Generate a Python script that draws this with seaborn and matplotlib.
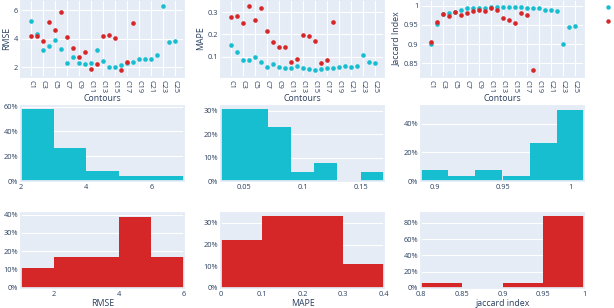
import matplotlib
matplotlib.use("Agg")
import matplotlib.pyplot as plt
import numpy as np
import pandas as pd
import seaborn as sns
from matplotlib.lines import Line2D
from matplotlib.ticker import PercentFormatter

# ---- data ----
contours = [f"C{i}" for i in range(1, 26)]

rmse_cyan = [5.26, 4.35, 3.2, 3.5, 3.9, 3.3, 2.3, 2.7, 2.3, 2.25, 2.3, 3.2, 2.45,
             2.05, 2.0, 2.15, 2.3, 2.4, 2.55, 2.55, 2.6, 2.85, 6.3, 3.8, 3.85]
rmse_red = [4.2, 4.2, 3.85, 5.15, 4.6, 5.85, 4.1, 3.35, 2.7, 3.05, 1.9, 2.2,
            4.2, 4.25, 4.02, 1.8, 2.35, 5.1]

mape_cyan = [0.153, 0.12, 0.085, 0.085, 0.1, 0.077, 0.053, 0.067, 0.052, 0.048,
             0.048, 0.06, 0.05, 0.045, 0.042, 0.045, 0.05, 0.048, 0.052, 0.058,
             0.055, 0.057, 0.11, 0.075, 0.072]
mape_red = [0.28, 0.285, 0.25, 0.33, 0.265, 0.32, 0.215, 0.165, 0.145, 0.145,
            0.075, 0.09, 0.198, 0.195, 0.17, 0.07, 0.085, 0.255]

jacc_cyan = [0.9, 0.952, 0.978, 0.98, 0.983, 0.988, 0.993, 0.993, 0.995, 0.995,
             0.997, 0.996, 0.998, 0.998, 0.998, 0.997, 0.995, 0.993, 0.993, 0.99,
             0.988, 0.985, 0.9, 0.945, 0.946]
jacc_red = [0.905, 0.957, 0.978, 0.974, 0.984, 0.975, 0.981, 0.985, 0.988, 0.985,
            0.993, 0.988, 0.969, 0.964, 0.954, 0.982, 0.975, 0.832]

# histogram bins and counts (cyan n=26, red n=18)
rmse_cyan_edges = [2, 3, 4, 5, 6, 7]
rmse_cyan_counts = [15, 7, 2, 1, 1]
mape_cyan_edges = [0.03, 0.05, 0.07, 0.09, 0.11, 0.13, 0.15, 0.17]
mape_cyan_counts = [8, 8, 6, 1, 2, 0, 1]
jacc_cyan_edges = [0.89, 0.91, 0.93, 0.95, 0.97, 0.99, 1.01]
jacc_cyan_counts = [2, 1, 2, 1, 7, 13]

rmse_red_edges = [1, 2, 3, 4, 5, 6]
rmse_red_counts = [2, 3, 3, 7, 3]
mape_red_edges = [0, 0.1, 0.2, 0.3, 0.4]
mape_red_counts = [4, 6, 6, 2]
jacc_red_edges = [0.8, 0.85, 0.9, 0.95, 1.0]
jacc_red_counts = [1, 0, 1, 16]

CYAN = "#17becf"
RED = "#d62728"
BG = "#e5ecf6"
TXT = "#2a3f5f"

sns.set_theme(style="darkgrid", rc={
    "axes.facecolor": BG,
    "grid.color": "white",
    "grid.linewidth": 0.8,
    "axes.edgecolor": BG,
    "xtick.color": TXT,
    "ytick.color": TXT,
    "axes.labelcolor": TXT,
    "xtick.major.size": 0,
    "ytick.major.size": 0,
    "xtick.major.pad": 2,
    "ytick.major.pad": 2,
})
plt.rcParams["font.family"] = ["Open Sans", "DejaVu Sans"]

TICK_FS = 5.3
LABEL_FS = 6.3

fig = plt.figure(figsize=(6.14, 3.08), dpi=100)

W, H = 163 / 614, 75 / 308
lefts = [21 / 614, 221 / 614, 421 / 614]
row_bottoms = [1 - 77 / 308, 1 - 181 / 308, 1 - 288 / 308]
row_heights = [77 / 308, H, H]

axes = [[fig.add_axes([l, b, W, h]) for l in lefts]
        for b, h in zip(row_bottoms, row_heights)]

# ---- row 1: scatter per contour ----
scatter_specs = [
    (rmse_cyan, rmse_red, "RMSE", (1.32, 6.7), [2, 4, 6], ["2", "4", "6"]),
    (mape_cyan, mape_red, "MAPE", (0.009, 0.355), [0.1, 0.2, 0.3], ["0.1", "0.2", "0.3"]),
    (jacc_cyan, jacc_red, "Jaccard Index", (0.814, 1.015),
     [0.85, 0.9, 0.95, 1.0], ["0.85", "0.9", "0.95", "1"]),
]
for ax, (vc, vr, name, ylim, yt, ytl) in zip(axes[0], scatter_specs):
    sns.scatterplot(x=contours[:len(vc)], y=vc, color=CYAN, s=11, linewidth=0, ax=ax)
    sns.scatterplot(x=contours[:len(vr)], y=vr, color=RED, s=11, linewidth=0, ax=ax)
    ax.set_xlim(-1.65, len(contours) - 1 + 1.5)
    ax.set_ylim(*ylim)
    ax.set_xticks(contours[::2])
    ax.set_xticklabels(contours[::2], rotation=270, fontsize=TICK_FS)
    ax.set_yticks(yt)
    ax.set_yticklabels(ytl, fontsize=TICK_FS)
    ax.set_xlabel("Contours", fontsize=LABEL_FS, labelpad=1)
    ax.set_ylabel(name, fontsize=LABEL_FS, labelpad=2)


def draw_hist(ax, edges, counts, color):
    counts = np.asarray(counts, dtype=float)
    pct = counts / counts.sum() * 100
    df = pd.DataFrame({"left": edges[:-1], "pct": pct})
    sns.histplot(data=df, x="left", weights="pct", bins=edges, color=color,
                 alpha=1, linewidth=0, ax=ax)
    ax.grid(axis="x", visible=False)
    ax.yaxis.set_major_formatter(PercentFormatter(decimals=0))
    ax.tick_params(labelsize=TICK_FS)
    ax.set_ylabel("")
    ax.set_xlabel("")


# ---- row 2: cyan histograms ----
draw_hist(axes[1][0], rmse_cyan_edges, rmse_cyan_counts, CYAN)
axes[1][0].set_xlim(2, 7)
axes[1][0].set_xticks([2, 4, 6])
axes[1][0].set_ylim(0, 60.5)
axes[1][0].set_yticks([0, 20, 40, 60])

draw_hist(axes[1][1], mape_cyan_edges, mape_cyan_counts, CYAN)
axes[1][1].set_xlim(0.03, 0.17)
axes[1][1].set_xticks([0.05, 0.1, 0.15])
axes[1][1].set_xticklabels(["0.05", "0.1", "0.15"])
axes[1][1].set_ylim(0, 32.1)
axes[1][1].set_yticks([0, 10, 20, 30])

draw_hist(axes[1][2], jacc_cyan_edges, jacc_cyan_counts, CYAN)
axes[1][2].set_xlim(0.89, 1.01)
axes[1][2].set_xticks([0.9, 0.95, 1.0])
axes[1][2].set_xticklabels(["0.9", "0.95", "1"])
axes[1][2].set_ylim(0, 52.6)
axes[1][2].set_yticks([0, 20, 40])

# ---- row 3: red histograms ----
draw_hist(axes[2][0], rmse_red_edges, rmse_red_counts, RED)
axes[2][0].set_xlim(1, 6)
axes[2][0].set_xticks([2, 4, 6])
axes[2][0].set_ylim(0, 40.9)
axes[2][0].set_yticks([0, 10, 20, 30, 40])
axes[2][0].set_xlabel("RMSE", fontsize=LABEL_FS, labelpad=1)

draw_hist(axes[2][1], mape_red_edges, mape_red_counts, RED)
axes[2][1].set_xlim(0, 0.4)
axes[2][1].set_xticks([0, 0.1, 0.2, 0.3, 0.4])
axes[2][1].set_xticklabels(["0", "0.1", "0.2", "0.3", "0.4"])
axes[2][1].set_ylim(0, 34.6)
axes[2][1].set_yticks([0, 10, 20, 30])
axes[2][1].set_xlabel("MAPE", fontsize=LABEL_FS, labelpad=1)

draw_hist(axes[2][2], jacc_red_edges, jacc_red_counts, RED)
axes[2][2].set_xlim(0.8, 1.0)
axes[2][2].set_xticks([0.8, 0.85, 0.9, 0.95, 1.0])
axes[2][2].set_xticklabels(["0.8", "0.85", "0.9", "0.95", "1"])
axes[2][2].set_ylim(0, 92)
axes[2][2].set_yticks([0, 20, 40, 60, 80])
axes[2][2].set_xlabel("jaccard index", fontsize=LABEL_FS, labelpad=1)

# legend markers at the right edge; the reference shows no legend text
handles = [Line2D([], [], marker="o", linestyle="", markersize=3.2,
                  markerfacecolor=c, markeredgewidth=0) for c in (CYAN, RED)]
fig.legend(handles, ["", ""], loc="upper left", bbox_to_anchor=(0.982, 1.0),
           frameon=False, fontsize=LABEL_FS, handlelength=0.6, handletextpad=0.6,
           labelspacing=0.6, borderaxespad=0, borderpad=0.3)

fig.savefig("out.png", dpi=100)
